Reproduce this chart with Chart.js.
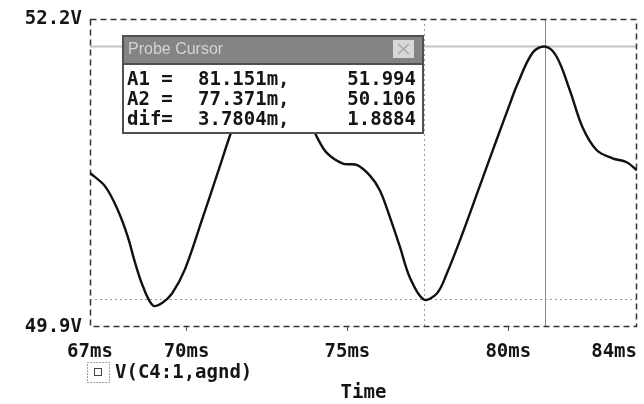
<!DOCTYPE html>
<html><head><meta charset="utf-8">
<script src="https://cdn.jsdelivr.net/npm/chart.js@4.4.1/dist/chart.umd.min.js"></script>
<style>html,body{margin:0;padding:0;background:#fff;}#wrap{width:644px;height:404px;}</style>
</head><body><div id="wrap"><canvas id="c" width="644" height="404"></canvas></div>
<script>
const timeMs = [67.00, 67.47, 67.87, 68.18, 68.40, 68.65, 68.96, 69.24, 69.55, 69.95, 70.48, 70.98, 71.35, 71.88, 72.38, 72.81, 73.12, 73.52, 73.93, 74.05, 74.36, 74.86, 75.29, 75.70, 76.01, 76.32, 76.63, 76.94, 77.37, 77.78, 78.09, 78.58, 79.11, 79.64, 80.04, 80.26, 80.76, 81.15, 81.50, 81.91, 82.31, 82.75, 83.24, 83.68, 84.00];
const voltage = [51.05, 50.95, 50.77, 50.57, 50.38, 50.20, 50.06, 50.08, 50.15, 50.33, 50.70, 51.06, 51.33, 51.69, 51.95, 51.99, 51.92, 51.67, 51.39, 51.32, 51.20, 51.12, 51.11, 51.03, 50.92, 50.72, 50.50, 50.27, 50.106, 50.15, 50.30, 50.60, 50.95, 51.30, 51.56, 51.70, 51.95, 51.994, 51.92, 51.67, 51.39, 51.22, 51.16, 51.13, 51.07];
const xTickValues = [67, 70, 75, 80, 84];
const yTickValues = [49.9, 52.2];
const cursorA1 = [81.151, 51.994];
const cursorA2 = [77.371, 50.106];
const cursorTitle = "Probe Cursor";
const cursorRows = [["A1 =", "81.151m,", "51.994"], ["A2 =", "77.371m,", "50.106"], ["dif=", "3.7804m,", "1.8884"]];
const seriesLabel = "V(C4:1,agnd)";
const xAxisTitle = "Time";

const MONO = 'bold 19px "DejaVu Sans Mono"';

const overlay = {
  id: 'overlay',
  beforeDatasetsDraw(chart) {
    const {ctx, chartArea: a, scales: {x, y}} = chart;
    ctx.save();
    const xA1 = Math.round(x.getPixelForValue(cursorA1[0])) + 0.5;
    const yA1 = y.getPixelForValue(cursorA1[1]);
    const xA2 = Math.round(x.getPixelForValue(cursorA2[0])) + 0.5;
    const yA2 = Math.round(y.getPixelForValue(cursorA2[1])) + 0.5;
    ctx.lineCap = 'butt';
    ctx.strokeStyle = '#c4c4c4'; ctx.lineWidth = 2;
    ctx.beginPath(); ctx.moveTo(a.left, yA1); ctx.lineTo(a.right, yA1); ctx.stroke();
    ctx.strokeStyle = '#8a8a8a'; ctx.lineWidth = 1;
    ctx.beginPath(); ctx.moveTo(xA1, a.top); ctx.lineTo(xA1, a.bottom); ctx.stroke();
    ctx.setLineDash([2, 3]); ctx.strokeStyle = '#9a9a9a';
    ctx.beginPath(); ctx.moveTo(a.left, yA2); ctx.lineTo(a.right, yA2); ctx.stroke();
    ctx.beginPath(); ctx.moveTo(xA2, a.top); ctx.lineTo(xA2, a.bottom); ctx.stroke();
    ctx.setLineDash([6, 4]); ctx.strokeStyle = '#333'; ctx.lineWidth = 1.5;
    ctx.strokeRect(a.left + 0.5, a.top + 0.5, a.width - 1, a.height - 1);
    ctx.restore();
  },
  afterDraw(chart) {
    const ctx = chart.ctx;
    ctx.save();
    const bx = 122, by = 35, bw = 302, bh = 99;
    ctx.fillStyle = '#fff'; ctx.fillRect(bx, by, bw, bh);
    ctx.fillStyle = '#848484'; ctx.fillRect(bx, by, bw, 29);
    ctx.strokeStyle = '#505050'; ctx.lineWidth = 2;
    ctx.strokeRect(bx + 1, by + 1, bw - 2, bh - 2);
    ctx.beginPath(); ctx.moveTo(bx, by + 29); ctx.lineTo(bx + bw, by + 29); ctx.stroke();
    ctx.fillStyle = '#d4d4d4'; ctx.font = '16px "Liberation Sans"';
    ctx.textBaseline = 'middle'; ctx.textAlign = 'left';
    ctx.fillText(cursorTitle, 128, by + 15);
    ctx.fillStyle = '#d8d8d8'; ctx.fillRect(393, 40, 21, 18);
    ctx.strokeStyle = '#a8a8a8'; ctx.lineWidth = 1.5;
    ctx.beginPath(); ctx.moveTo(398, 44); ctx.lineTo(409, 54); ctx.moveTo(409, 44); ctx.lineTo(398, 54); ctx.stroke();
    ctx.fillStyle = '#151515'; ctx.font = MONO;
    cursorRows.forEach((r, i) => {
      const yy = 80 + 20 * i;
      ctx.textAlign = 'left';
      ctx.fillText(r[0], 127, yy);
      ctx.fillText(r[1], 198, yy);
      ctx.textAlign = 'right';
      ctx.fillText(r[2], 416, yy);
    });
    ctx.strokeStyle = '#444'; ctx.lineWidth = 1;
    ctx.setLineDash([1, 2]);
    ctx.strokeRect(87.5, 362.5, 22, 20);
    ctx.setLineDash([]);
    ctx.strokeRect(94.5, 368.5, 7, 7);
    ctx.fillStyle = '#151515'; ctx.font = MONO; ctx.textAlign = 'left'; ctx.textBaseline = 'middle';
    ctx.fillText(chart.data.datasets[0].label, 115, 373);
    ctx.restore();
  }
};

new Chart(document.getElementById('c'), {
  type: 'line',
  data: {
    datasets: [{
      label: seriesLabel,
      data: timeMs.map((t, i) => ({x: t, y: voltage[i]})),
      borderColor: '#111',
      borderWidth: 2.4,
      pointRadius: 0,
      fill: false,
      tension: 0.35
    }]
  },
  options: {
    responsive: false,
    animation: false,
    devicePixelRatio: 1,
    layout: {padding: {left: 0, top: 19, right: 7, bottom: 0}},
    plugins: {legend: {display: false}, tooltip: {enabled: false}},
    scales: {
      x: {
        type: 'linear', min: 67, max: 84,
        afterBuildTicks: s => { s.ticks = xTickValues.map(v => ({value: v})); },
        afterFit: s => { s.height = 77; s.paddingLeft = 0; s.paddingRight = 0; },
        grid: {display: true, drawOnChartArea: false, drawTicks: true, tickLength: 4,
               color: c => (c.index === 0 || c.index === xTickValues.length - 1) ? 'rgba(0,0,0,0)' : '#555'},
        border: {display: false},
        ticks: {
          autoSkip: false, maxRotation: 0, padding: 10, color: '#151515',
          font: {family: 'DejaVu Sans Mono', size: 19, weight: 'bold'},
          callback: v => (v === 84 ? '84ms    ' : v + 'ms')
        },
        title: {display: true, text: xAxisTitle, color: '#151515', padding: {top: 0, bottom: 0},
                font: {family: 'DejaVu Sans Mono', size: 19, weight: 'bold'}}
      },
      y: {
        type: 'linear', min: 49.9, max: 52.2,
        afterBuildTicks: s => { s.ticks = yTickValues.map(v => ({value: v})); },
        afterFit: s => { s.width = 90; s.paddingTop = 0; s.paddingBottom = 0; },
        grid: {display: false, drawTicks: false},
        border: {display: false},
        ticks: {
          padding: 8, color: '#151515',
          font: {family: 'DejaVu Sans Mono', size: 19, weight: 'bold'},
          callback: v => v.toFixed(1) + 'V'
        }
      }
    }
  },
  plugins: [overlay]
});
</script>
</body></html>
